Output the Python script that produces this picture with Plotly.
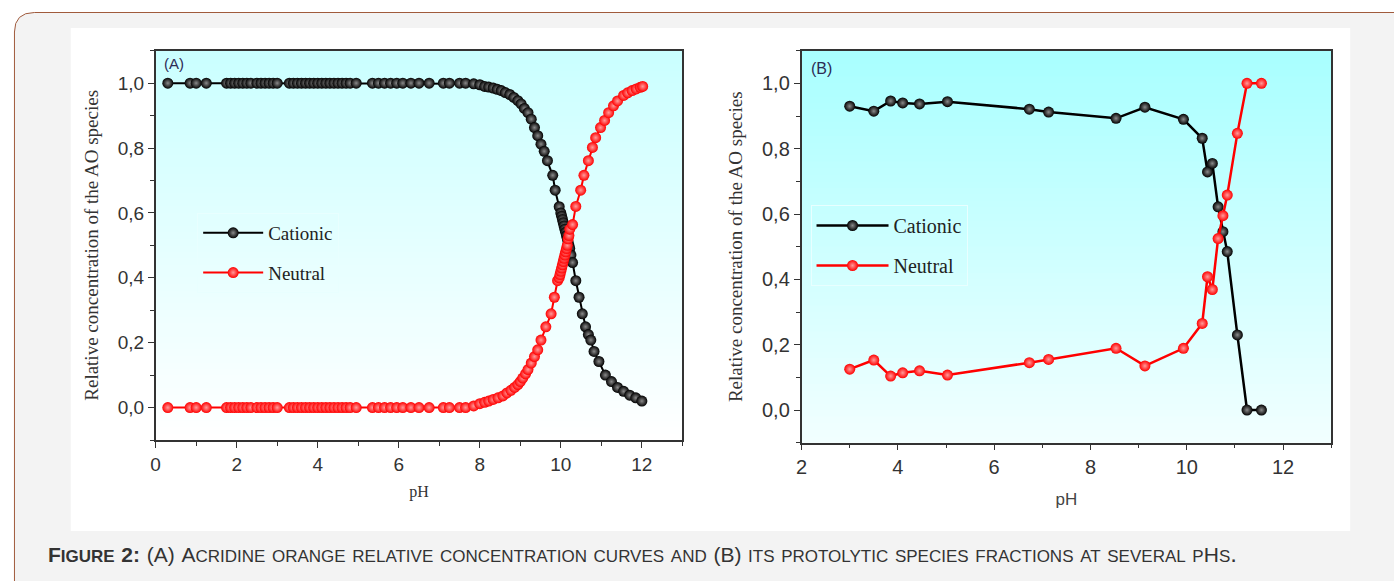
import plotly.graph_objects as go

# ---------------- data ----------------
flat_ph = [0.3, 0.85, 1.0, 1.25, 1.75, 1.85, 1.95, 2.05, 2.15, 2.25, 2.35, 2.5, 2.6, 2.7, 2.8,
           2.9, 3.0, 3.3, 3.4, 3.5, 3.6, 3.7, 3.8, 3.9, 4.0, 4.1, 4.2, 4.3, 4.4, 4.5, 4.6, 4.7,
           4.8, 4.95, 5.35, 5.5, 5.65, 5.8, 5.95, 6.1, 6.3, 6.5, 6.75, 7.1, 7.25, 7.5, 7.65]

a_cat_ph_tail = [7.85, 8.0, 8.12, 8.22, 8.33, 8.43, 8.53, 8.63, 8.74, 8.84, 8.94, 9.02, 9.1, 9.19,
                 9.27, 9.35, 9.43, 9.51, 9.59, 9.67, 9.8, 9.86, 9.96, 10.0, 10.02, 10.04, 10.06,
                 10.08, 10.1, 10.12, 10.14, 10.16, 10.18, 10.2, 10.22, 10.25, 10.29, 10.37, 10.45,
                 10.53, 10.61, 10.68, 10.74, 10.82, 10.94, 11.1, 11.25, 11.4, 11.55, 11.7, 11.85, 12.0]
a_cat_val_tail = [0.998, 0.995, 0.99, 0.988, 0.985, 0.981, 0.977, 0.971, 0.965, 0.956, 0.946, 0.936,
                  0.922, 0.909, 0.889, 0.863, 0.838, 0.812, 0.79, 0.761, 0.716, 0.67, 0.619, 0.60,
                  0.59, 0.58, 0.57, 0.56, 0.55, 0.54, 0.53, 0.52, 0.51, 0.50, 0.49, 0.47, 0.447,
                  0.391, 0.34, 0.289, 0.249, 0.225, 0.208, 0.173, 0.142, 0.10, 0.08, 0.062, 0.05,
                  0.038, 0.03, 0.02]

a_neu_ph_tail = [7.85, 8.0, 8.12, 8.22, 8.33, 8.45, 8.57, 8.67, 8.77, 8.86, 8.94, 9.0, 9.06, 9.13,
                 9.19, 9.27, 9.35, 9.43, 9.51, 9.63, 9.76, 9.84, 9.92, 9.96, 9.98, 10.0, 10.02,
                 10.04, 10.06, 10.08, 10.1, 10.12, 10.14, 10.16, 10.18, 10.2, 10.22, 10.29, 10.37,
                 10.49, 10.57, 10.68, 10.78, 10.86, 10.98, 11.08, 11.18, 11.3, 11.4, 11.55, 11.65,
                 11.76, 11.86, 11.96, 12.02]
a_neu_val_tail = [0.005, 0.012, 0.016, 0.02, 0.025, 0.03, 0.036, 0.045, 0.053, 0.062, 0.071, 0.08,
                  0.091, 0.104, 0.117, 0.137, 0.157, 0.178, 0.208, 0.249, 0.289, 0.34, 0.391, 0.40,
                  0.41, 0.42, 0.43, 0.44, 0.45, 0.46, 0.47, 0.48, 0.49, 0.50, 0.52, 0.53, 0.55,
                  0.564, 0.62, 0.67, 0.716, 0.761, 0.802, 0.832, 0.863, 0.885, 0.909, 0.93, 0.945,
                  0.962, 0.97, 0.977, 0.982, 0.987, 0.99]

flat_cat = [1.0] * len(flat_ph)
flat_neu = [0.0] * len(flat_ph)

b_ph = [3.0, 3.5, 3.85, 4.1, 4.45, 5.03, 6.73, 7.13, 8.53, 9.13, 9.93, 10.32, 10.43, 10.53,
        10.65, 10.75, 10.84, 11.05, 11.25, 11.55]
b_cationic = [0.93, 0.915, 0.946, 0.94, 0.937, 0.944, 0.921, 0.912, 0.893, 0.927, 0.89, 0.832,
              0.729, 0.755, 0.622, 0.546, 0.485, 0.23, 0.0, 0.0]
b_neutral = [0.125, 0.153, 0.104, 0.114, 0.12, 0.107, 0.145, 0.155, 0.189, 0.135, 0.189, 0.265,
             0.408, 0.369, 0.525, 0.595, 0.658, 0.847, 1.0, 1.0]

y_ticks = [0.0, 0.2, 0.4, 0.6, 0.8, 1.0]
ya_title = "Relative concentration of the AO species"
caption_bold = "Figure 2:"
caption_rest = " (A) Acridine orange relative concentration curves and (B) its protolytic species fractions at several pHs."

# ---------------- figure ----------------
W, H = 1394, 581
def PX(px): return px / W
def PY(py): return 1 - py / H

def smallcaps_html(s):
    out = []
    for ch in s:
        if ch.isupper() or ch.isdigit() or ch in "():":
            out.append(f"<span style='font-size:21px'>{ch}</span>")
        else:
            out.append(ch)
    return "".join(out)

caption_html = "<b>" + smallcaps_html(caption_bold) + "</b>" + smallcaps_html(caption_rest)

fig = go.Figure()

blk = dict(color="black", size=11, line=dict(width=0), gradient=dict(type="radial", color="#8a8a8a"))
red = dict(color="#ff0000", size=11, line=dict(width=0), gradient=dict(type="radial", color="#ff9a9a"))

fig.add_trace(go.Scatter(x=flat_ph + a_cat_ph_tail, y=flat_cat + a_cat_val_tail, mode="lines+markers",
                         name="Cationic", line=dict(color="black", width=2), marker=blk,
                         xaxis="x", yaxis="y", legend="legend", legendgroup="a1"))
fig.add_trace(go.Scatter(x=flat_ph + a_neu_ph_tail, y=flat_neu + a_neu_val_tail, mode="lines+markers",
                         name="Neutral", line=dict(color="#ff0000", width=2), marker=red,
                         xaxis="x", yaxis="y", legend="legend", legendgroup="a2"))
fig.add_trace(go.Scatter(x=b_ph, y=b_cationic, mode="lines+markers", name="Cationic",
                         line=dict(color="black", width=2.5), marker=blk,
                         xaxis="x2", yaxis="y2", legend="legend2", legendgroup="b1"))
fig.add_trace(go.Scatter(x=b_ph, y=b_neutral, mode="lines+markers", name="Neutral",
                         line=dict(color="#ff0000", width=2.5), marker=red,
                         xaxis="x2", yaxis="y2", legend="legend2", legendgroup="b2"))

# background shapes
shapes = []
shapes.append(dict(type="path", xref="paper", yref="paper", layer="below",
                   path=(f"M {PX(8.5)},{PY(620)} L {PX(8.5)},{PY(32)} "
                         f"Q {PX(8.5)},{PY(12.5)} {PX(28.5)},{PY(12.5)} "
                         f"L {PX(1450)},{PY(12.5)} L {PX(1450)},{PY(620)} Z"),
                   fillcolor="#f3f3f3", line=dict(color="#a05a3c", width=1)))
shapes.append(dict(type="rect", xref="paper", yref="paper", layer="below",
                   x0=PX(65), x1=PX(1350), y0=PY(531), y1=PY(28),
                   fillcolor="white", line=dict(width=0)))

def gradient(xr, yr, top, bottom, n=60):
    out = []
    for i in range(n):
        t = (i + 0.5) / n  # 0 bottom -> 1 top
        c = [round(bottom[k] + (top[k] - bottom[k]) * t) for k in range(3)]
        out.append(dict(type="rect", xref=xr + " domain", yref=yr + " domain", layer="below",
                        x0=0, x1=1, y0=i / n, y1=(i + 1) / n + 0.002,
                        fillcolor=f"rgb({c[0]},{c[1]},{c[2]})", line=dict(width=0)))
    return out

shapes += gradient("x", "y", (202, 255, 255), (255, 255, 255))
shapes += gradient("x2", "y2", (168, 255, 255), (242, 255, 255))

tickfont_a = dict(family="Liberation Sans, Arial", size=19, color="#333333")
tickfont_b = dict(family="Liberation Sans, Arial", size=20, color="#333333")
common_x = dict(showline=True, linecolor="#333333", linewidth=1.5, mirror=True, ticks="outside",
                ticklen=6, tickwidth=1.3, tickcolor="#333333", showgrid=False, zeroline=False,
                dtick=2, tick0=0,
                minor=dict(dtick=1, tick0=0, ticks="outside", ticklen=4, tickcolor="#333333", tickwidth=1.2))
common_y = dict(showline=True, linecolor="#333333", linewidth=1.5, mirror=True, ticks="outside",
                ticklen=6, tickwidth=1.3, tickcolor="#333333", showgrid=False, zeroline=False,
                tickvals=y_ticks, tickformat=".1f", range=[-0.1, 1.1],
                minor=dict(dtick=0.1, tick0=0, ticks="outside", ticklen=4, tickcolor="#333333", tickwidth=1.2))

xa = dict(common_x, domain=[PX(150.3), PX(679.3)], range=[0, 13], anchor="y", tickfont=tickfont_a,
          title=dict(text="pH", font=dict(family="Liberation Serif", size=16, color="#333"), standoff=12))
ya = dict(common_y, domain=[PY(440), PY(50.7)], anchor="x", tickfont=tickfont_a,
          title=dict(text=ya_title, font=dict(family="Liberation Serif", size=19, color="#333"), standoff=14))
xb = dict(common_x, domain=[PX(799), PX(1331)], range=[2, 13], anchor="y2", tickfont=tickfont_b,
          title=dict(text="pH", font=dict(family="Liberation Sans, Arial", size=17, color="#444"), standoff=16))
yb = dict(common_y, domain=[PY(442.7), PY(50.7)], anchor="x2", tickfont=tickfont_b,
          title=dict(text=ya_title, font=dict(family="Liberation Serif", size=19, color="#333"), standoff=14))

legfont_a = dict(family="Liberation Serif", size=19, color="#222")
legfont_b = dict(family="Liberation Serif", size=20, color="#222")
fig.update_layout(
    width=W, height=H, autosize=False,
    margin=dict(l=0, r=0, t=0, b=0, pad=0),
    paper_bgcolor="white", plot_bgcolor="rgba(0,0,0,0)",
    separators=",.",
    xaxis=xa, yaxis=ya, xaxis2=xb, yaxis2=yb,
    shapes=shapes,
    legend=dict(x=PX(192), y=PY(213), xanchor="left", yanchor="top", bgcolor="rgba(0,0,0,0)",
                bordercolor="#e8ffff", borderwidth=1, font=legfont_a, traceorder="grouped",
                tracegroupgap=12, itemwidth=60),
    legend2=dict(x=PX(808), y=PY(205), xanchor="left", yanchor="top", bgcolor="rgba(0,0,0,0)",
                 bordercolor="#e8ffff", borderwidth=1, font=legfont_b, traceorder="grouped",
                 tracegroupgap=11, itemwidth=72),
    annotations=[
        dict(text="(A)", xref="paper", yref="paper", x=PX(157), y=PY(64), xanchor="left",
             yanchor="middle", showarrow=False, font=dict(family="Liberation Sans, Arial", size=15, color="#2c2c55")),
        dict(text="(B)", xref="paper", yref="paper", x=PX(806), y=PY(68), xanchor="left",
             yanchor="middle", showarrow=False, font=dict(family="Liberation Sans, Arial", size=16, color="#2c2c55")),
        dict(text=caption_html, xref="paper", yref="paper", x=PX(40), y=PY(553), xanchor="left",
             yanchor="middle", showarrow=False,
             font=dict(family="Liberation Sans, Arial", size=24, color="#333", variant="small-caps")),
    ],
    showlegend=True,
)

fig.write_html("out.html", config={"displayModeBar": False},
               post_script="document.body.style.margin='0';document.body.style.overflow='hidden';")
